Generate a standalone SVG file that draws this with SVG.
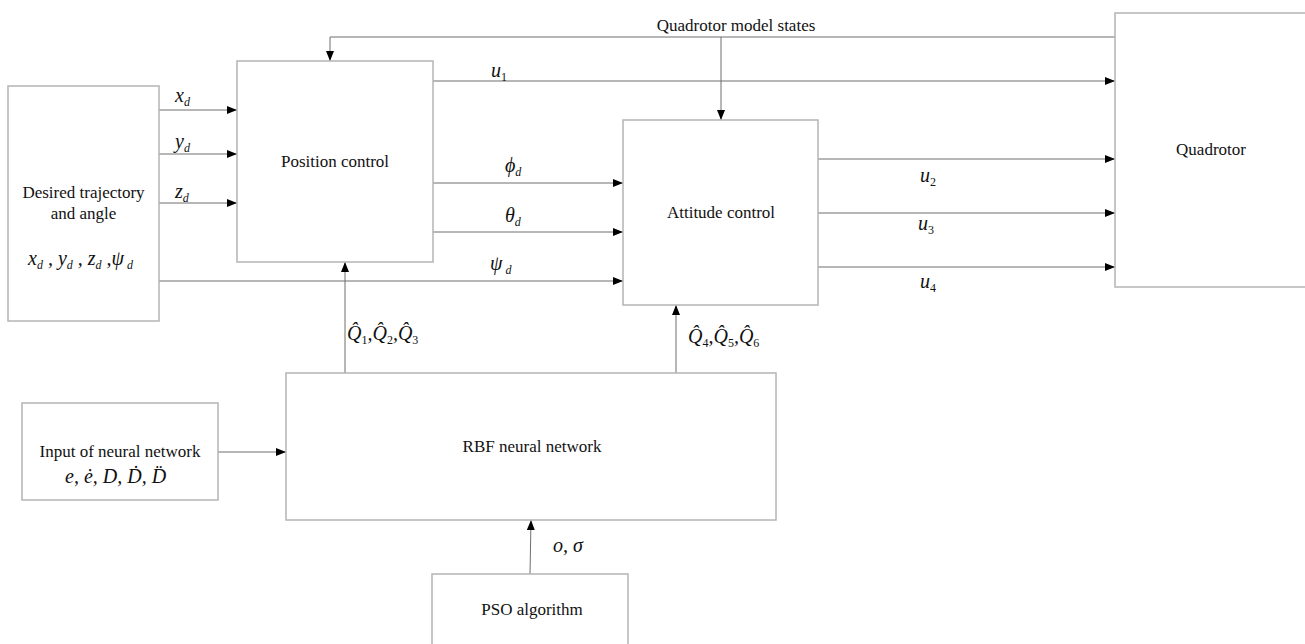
<svg xmlns="http://www.w3.org/2000/svg" width="1305" height="644" viewBox="0 0 1305 644">
<style>
.box{fill:#fff;stroke:#b4b4b4;stroke-width:1.5}
.ln{fill:none;stroke:#6e6e6e;stroke-width:1}
.t{font-family:"Liberation Serif","Times New Roman",serif;font-size:17px;fill:#111}
.c{text-anchor:middle}
.m{font-family:"Liberation Serif","Times New Roman",serif;font-size:20px;font-style:italic;fill:#111}
.s{font-size:12px}
.n{font-style:normal}
</style>
<defs>
<marker id="ar" markerUnits="userSpaceOnUse" markerWidth="11" markerHeight="9" refX="10" refY="4" orient="auto">
<path d="M0,0 L10,4 L0,8 z" fill="#000"/>
</marker>
</defs>
<rect width="1305" height="644" fill="#fff"/>

<g id="connectors">
<line class="ln" x1="159" y1="110" x2="237" y2="110" marker-end="url(#ar)"/>
<line class="ln" x1="159" y1="154" x2="237" y2="154" marker-end="url(#ar)"/>
<line class="ln" x1="159" y1="203" x2="237" y2="203" marker-end="url(#ar)"/>
<line class="ln" x1="159" y1="281" x2="623" y2="281" marker-end="url(#ar)"/>
<polyline class="ln" points="1115,37 330,37 330,61" marker-end="url(#ar)"/>
<line class="ln" x1="721" y1="37" x2="721" y2="120" marker-end="url(#ar)"/>
<line class="ln" x1="433" y1="81" x2="1115" y2="81" marker-end="url(#ar)"/>
<line class="ln" x1="433" y1="183" x2="623" y2="183" marker-end="url(#ar)"/>
<line class="ln" x1="433" y1="232" x2="623" y2="232" marker-end="url(#ar)"/>
<line class="ln" x1="818" y1="159" x2="1115" y2="159" marker-end="url(#ar)"/>
<line class="ln" x1="818" y1="213" x2="1115" y2="213" marker-end="url(#ar)"/>
<line class="ln" x1="818" y1="267" x2="1115" y2="267" marker-end="url(#ar)"/>
<line class="ln" x1="345" y1="373" x2="345" y2="262" marker-end="url(#ar)"/>
<line class="ln" x1="676" y1="373" x2="676" y2="305" marker-end="url(#ar)"/>
<line class="ln" x1="218" y1="452" x2="286" y2="452" marker-end="url(#ar)"/>
<line class="ln" x1="530" y1="574" x2="531" y2="520" marker-end="url(#ar)"/>

<text class="m" x="175" y="102">x<tspan class="s" dy="4">d</tspan></text>
<text class="m" x="175" y="148">y<tspan class="s" dy="4">d</tspan></text>
<text class="m" x="175" y="198">z<tspan class="s" dy="4">d</tspan></text>
<text class="m" x="491" y="77">u<tspan class="s n" dy="4">1</tspan></text>
<text class="m" x="505" y="172">ϕ<tspan class="s" dy="4">d</tspan></text>
<text class="m" x="505" y="222">θ<tspan class="s" dy="4">d</tspan></text>
<text class="m" x="490" y="270">ψ<tspan class="s" dy="4"> d</tspan></text>
<text class="m" x="920" y="182">u<tspan class="s n" dy="4">2</tspan></text>
<text class="m" x="918" y="230">u<tspan class="s n" dy="4">3</tspan></text>
<text class="m" x="920" y="288">u<tspan class="s n" dy="4">4</tspan></text>
<text class="m" x="347" y="340">Q̂<tspan class="s n" dy="4">1</tspan><tspan dy="-4">,</tspan>Q̂<tspan class="s n" dy="4">2</tspan><tspan dy="-4">,</tspan>Q̂<tspan class="s n" dy="4">3</tspan></text>
<text class="m" x="688" y="343">Q̂<tspan class="s n" dy="4">4</tspan><tspan dy="-4">,</tspan>Q̂<tspan class="s n" dy="4">5</tspan><tspan dy="-4">,</tspan>Q̂<tspan class="s n" dy="4">6</tspan></text>
<text class="m" x="553" y="552">o, σ</text>
<text class="t c" x="736" y="31">Quadrotor model states</text>
</g>

<g id="desired">
<rect class="box" x="8" y="86" width="151" height="235"/>
<text class="t c" x="83.5" y="198">Desired trajectory</text>
<text class="t c" x="83.5" y="219">and angle</text>
<text class="m" x="28" y="265">x<tspan class="s" dy="4">d</tspan><tspan dy="-4"> , </tspan>y<tspan class="s" dy="4">d</tspan><tspan dy="-4"> , </tspan>z<tspan class="s" dy="4">d</tspan><tspan dy="-4"> ,</tspan>ψ<tspan class="s" dy="4"> d</tspan></text>
</g>

<g id="position">
<rect class="box" x="237" y="61" width="196" height="201"/>
<text class="t c" x="335" y="167">Position control</text>
</g>

<g id="attitude">
<rect class="box" x="623" y="120" width="195" height="185"/>
<text class="t c" x="721" y="218">Attitude control</text>
</g>

<g id="quadrotor">
<rect class="box" x="1115" y="13" width="195" height="274"/>
<text class="t c" x="1211" y="155">Quadrotor</text>
</g>

<g id="rbf">
<rect class="box" x="286" y="373" width="490" height="147"/>
<text class="t c" x="532" y="452">RBF neural network</text>
</g>

<g id="input">
<rect class="box" x="22" y="403" width="196" height="97"/>
<text class="t c" x="120" y="457">Input of neural network</text>
<text class="m" x="65" y="483">e, ė, D, Ḋ, D̈</text>
</g>

<g id="pso">
<rect class="box" x="432" y="574" width="196" height="80"/>
<text class="t c" x="532" y="615">PSO algorithm</text>
</g>
</svg>
